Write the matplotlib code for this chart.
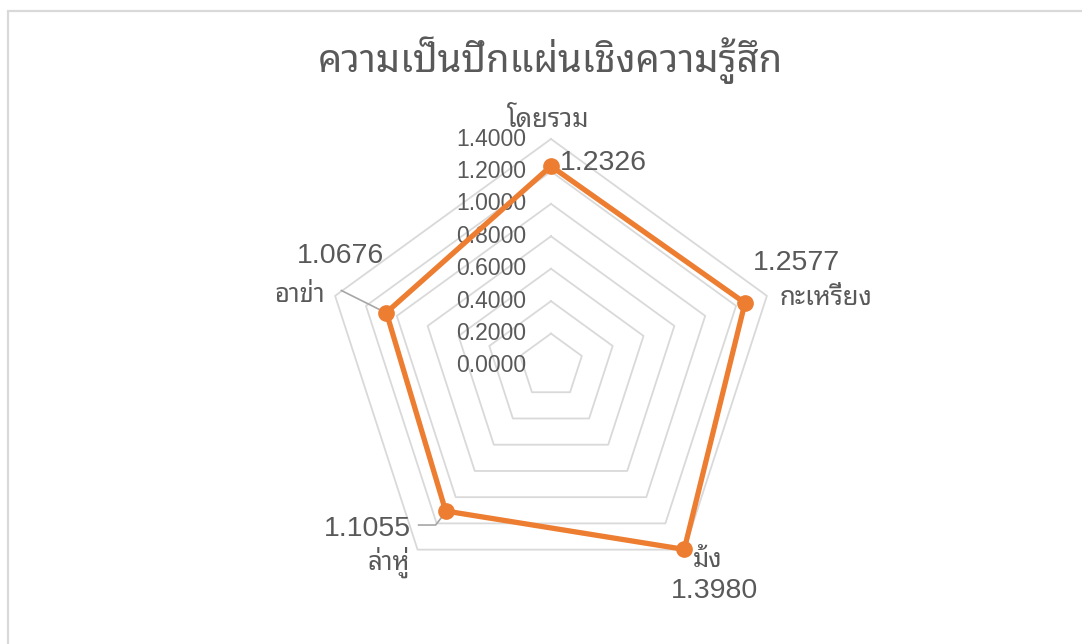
import numpy as np
import matplotlib
matplotlib.use("Agg")
import matplotlib.pyplot as plt
from matplotlib import font_manager as fm
from matplotlib.transforms import offset_copy
from matplotlib.patches import Rectangle

# ---------------- data ----------------
title = "ความเป็นปึกแผ่นเชิงความรู้สึก"
categories = ["โดยรวม", "กะเหรี่ยง", "ม้ง", "ล่าหู่", "อาข่า"]
values = [1.2326, 1.2577, 1.3980, 1.1055, 1.0676]
value_labels = ["1.2326", "1.2577", "1.3980", "1.1055", "1.0676"]
r_ticks = [0.0, 0.2, 0.4, 0.6, 0.8, 1.0, 1.2, 1.4]
r_tick_labels = ["0.0000", "0.2000", "0.4000", "0.6000", "0.8000", "1.0000", "1.2000", "1.4000"]

# ---------------- fonts ----------------
def has_thai(path):
    try:
        from fontTools.ttLib import TTFont
        f = TTFont(path, fontNumber=0, lazy=True)
        cmap = f.getBestCmap()
        return cmap is not None and 0x0E04 in cmap and 0x0E21 in cmap
    except Exception:
        return False

thai_fonts = []
for fe in fm.fontManager.ttflist:
    if fe.name not in thai_fonts and has_thai(fe.fname):
        thai_fonts.append(fe.name)
preferred = ["Tahoma", "Leelawadee UI", "Leelawadee", "Noto Sans Thai Looped", "Loma",
             "IBM Plex Sans Thai Looped", "Noto Sans Thai", "Sarabun", "Garuda"]
thai_font = None
for p in preferred:
    if p in thai_fonts:
        thai_font = p
        break
if thai_font is None and thai_fonts:
    thai_font = thai_fonts[0]
fam = ([thai_font] if thai_font else []) + ["Liberation Sans", "DejaVu Sans"]
num_fam = ["Liberation Sans", "DejaVu Sans"]

text_color = "#595959"
orange = "#ED7D31"
grid_color = "#D9D9D9"

W, H = 1082, 644
fig = plt.figure(figsize=(W / 100, H / 100), dpi=100)
fig.patch.set_facecolor("white")

# chart border
fig.patches.append(Rectangle((7.5 / W, -0.2), 1.5, 1.2 - 11.5 / H, transform=fig.transFigure,
                             fill=False, edgecolor=grid_color, linewidth=1.6, zorder=0))

cx, cy, R = 551, 366, 227
ax = fig.add_axes([(cx - R) / W, (H - cy - R) / H, 2 * R / W, 2 * R / H], projection="polar")
ax.set_theta_offset(np.pi / 2)
ax.set_theta_direction(-1)
ax.set_ylim(0, r_ticks[-1])
ax.grid(False)
ax.set_xticks([])
ax.set_yticks([])
ax.spines["polar"].set_visible(False)
ax.patch.set_visible(False)

n = len(categories)
angles = np.linspace(0, 2 * np.pi, n, endpoint=False)
closed = np.concatenate([angles, angles[:1]])

# pentagon gridlines
for r in r_ticks[1:]:
    ax.plot(closed, [r] * (n + 1), color=grid_color, lw=1.3, zorder=1, clip_on=False)

# radial tick labels
tick_tr = offset_copy(ax.transData, fig=fig, x=-25, y=0, units="dots")
for r, lab in zip(r_ticks, r_tick_labels):
    ax.text(0, r, lab, transform=tick_tr, ha="right", va="center", fontsize=16.5,
            color=text_color, family=num_fam, zorder=2)

# data line
vals_closed = values + values[:1]
ax.plot(closed, vals_closed, color=orange, lw=3.8, zorder=3, solid_joinstyle="round",
        solid_capstyle="round", clip_on=False)
ax.plot(angles, values, "o", color=orange, markersize=11, zorder=4, clip_on=False)

# category labels (offset in pixels from outer vertex, baseline anchored)
cat_off = [(-3, 12, "center"), (13, -9, "left"), (8, -17, "left"),
           (-8, -20, "right"), (-10, -6, "right")]
for a, c, (dx, dy, ha) in zip(angles, categories, cat_off):
    tr = offset_copy(ax.transData, fig=fig, x=dx, y=dy, units="dots")
    ax.text(a, r_ticks[-1], c, transform=tr, ha=ha, va="baseline", fontsize=18.5,
            color=text_color, family=fam, zorder=2)

# value labels (offset in pixels from data point)
val_off = [(9, 3, "left"), (51, 40, "center"), (30, -42, "center"),
           (-35, -18, "right"), (-46, 57, "center")]
for a, v, lab, (dx, dy, ha) in zip(angles, values, value_labels, val_off):
    tr = offset_copy(ax.transData, fig=fig, x=dx, y=dy, units="dots")
    ax.text(a, v, lab, transform=tr, ha=ha, va="center", fontsize=20.5, color=text_color,
            family=num_fam, zorder=2)

# leader lines for labels on the left side
def leader(idx, pts):
    base = ax.transData.transform((angles[idx], values[idx]))
    inv = ax.transData.inverted()
    th, rr = zip(*[inv.transform((base[0] + px, base[1] + py)) for px, py in pts])
    ax.plot(th, rr, color="#A6A6A6", lw=1.2, zorder=2.5, clip_on=False)

leader(3, [(-3, -5), (-10, -14), (-27, -14)])
leader(4, [(-3, 1), (-45, 22)])

fig.text(550 / W, 1 - 60 / H, title, ha="center", va="center", fontsize=27.5,
         color=text_color, family=fam)

fig.savefig("out.png", dpi=100, facecolor="white")
